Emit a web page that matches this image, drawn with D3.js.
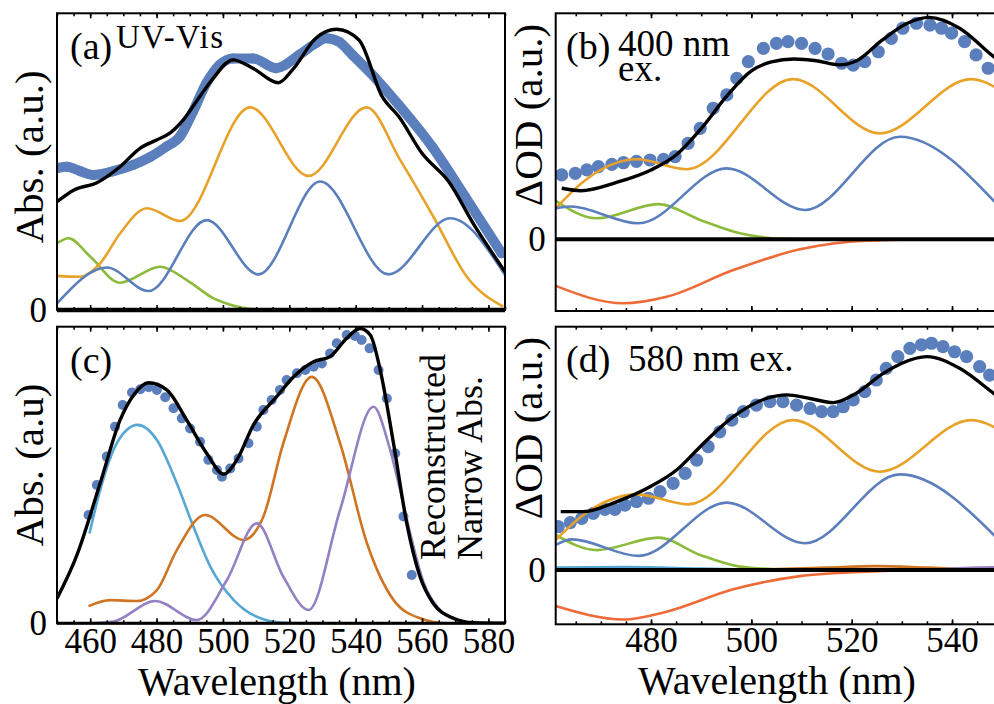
<!DOCTYPE html>
<html>
<head>
<meta charset="utf-8">
<script src="https://cdn.jsdelivr.net/npm/d3@7"></script>
<style>
  body { margin: 0; background: #fff; }
</style>
</head>
<body>
<div id="chart"></div>
<script>
// ---- values: [wavelength (nm), signal (a.u.)] ----

// (a) UV-Vis
const aData   = [[450,.478],[453,.483],[457,.468],[461,.455],[467,.468],[473,.489],[478,.515],[483,.551],[487,.584],[491,.669],[495,.764],[499,.826],[503,.848],[509,.848],[516,.815],[523,.860],[528,.899],[531,.916],[535,.904],[539,.860],[546,.781],[553,.691],[563,.551],[573,.382],[584,.191]];
const aFit    = [[450,.365],[455,.404],[462,.429],[469,.483],[475,.545],[480,.573],[484,.596],[488,.64],[493,.719],[497,.78],[503,.843],[509,.815],[516.7,.766],[521,.81],[528,.916],[534.3,.946],[541,.91],[548,.719],[553,.652],[560,.528],[568,.433],[576,.281],[585,.129]];
const aBlue   = [[450,.022],[465,.143],[477.6,.064],[495.1,.303],[510.7,.120],[529.3,.433],[549.9,.120],[568.5,.309],[585,.118]];
const aOrange = [[450,.115],[457,.112],[463,.157],[469,.258],[477.1,.343],[487.1,.300],[508.2,.683],[525.8,.452],[543.3,.683],[553.4,.506],[563.4,.315],[573.5,.112],[584.5,.011]];
const aGreen  = [[450,.225],[453.5,.242],[460,.18],[469,.092],[481.1,.146],[489.1,.101],[497.2,.039],[503,.015],[508,.004],[515,0]];

// (b) 400 nm excitation
const bData   = [[462.2,.285],[464.9,.292],[467.2,.307],[469.5,.322],[472.2,.332],[474.5,.339],[477.1,.345],[479.8,.351],[482.5,.354],[484.8,.366],[487.4,.425],[489.8,.491],[492.4,.580],[495.1,.639],[497.1,.712],[499.4,.786],[502.4,.845],[505.0,.867],[507.3,.875],[510.0,.867],[512.7,.845],[515.3,.820],[518.0,.779],[520.3,.771],[522.6,.786],[525.3,.830],[527.9,.889],[530.2,.934],[532.9,.956],[535.6,.948],[537.9,.934],[539.9,.912],[542.5,.875],[544.8,.816],[547.2,.757]];
const bFit    = [[462.2,.226],[466,.215],[473,.251],[480,.307],[485,.373],[490,.49],[495,.631],[500,.745],[504,.785],[508.5,.798],[513,.79],[517.5,.772],[521,.79],[526,.88],[531,.955],[535.5,.982],[541.5,.934],[548.3,.808],[550,.78]];
const bBlue   = [[461,.137],[463.9,.145],[477.5,.071],[495.1,.314],[510.7,.130],[529.6,.454],[550,.13]];
const bOrange = [[461,.137],[466.5,.255],[477.1,.354],[487.1,.310],[508.3,.709],[525.6,.469],[543.8,.709],[550,.655]];
const bGreen  = [[461,.170],[469.2,.093],[481.5,.156],[489.8,.086],[497.7,.027],[505,.004],[512,0]];
const bRed    = [[461,-.206],[474.5,-.283],[483.1,-.254],[496.4,-.136],[509.7,-.044],[522.9,-.006],[536.2,0],[550,0]];

// (c) reconstructed narrow absorption
const cData   = [[459.5,.365],[462.0,.466],[465.0,.562],[467.5,.663],[469.8,.736],[472.6,.778],[475.1,.789],[477.6,.796],[480.1,.787],[482.6,.762],[485.1,.725],[487.6,.691],[490.1,.657],[493.1,.612],[495.6,.551],[498.2,.517],[499.7,.494],[502.2,.522],[504.7,.556],[507.7,.607],[510.2,.663],[512.2,.719],[514.7,.753],[517.2,.787],[519.2,.820],[522.3,.843],[524.8,.854],[527.3,.865],[529.8,.876],[532.3,.910],[534.3,.944],[537.3,.972],[539.8,.969],[541.8,.955],[544.2,.927],[546.9,.854],[549.4,.758],[551.9,.573],[554.4,.360],[556.9,.163]];
const cFit    = [[450,.084],[456,.230],[463,.472],[469,.685],[473.1,.770],[477.6,.811],[483.1,.787],[489.1,.685],[495.1,.573],[500.2,.503],[504.2,.551],[509.2,.669],[516.2,.764],[521.3,.831],[527.3,.882],[532.3,.899],[537.3,.961],[541.3,.994],[544.4,.972],[547.4,.854],[551.4,.607],[555.4,.337],[559.4,.157],[563.4,.067],[569.5,.017],[575.5,.002],[585,0]];
const cCyan   = [[459.8,.303],[463,.449],[468,.607],[474.3,.669],[480.1,.618],[486.1,.472],[491.1,.326],[496.2,.191],[503.2,.079],[510.2,.022],[518.2,.002],[530,0]];
const cBrown  = [[459.5,.058],[466,.078],[474,.075],[480.1,.112],[486.1,.247],[494.6,.365],[506.2,.281],[512.2,.360],[518.2,.607],[526.8,.831],[535.3,.607],[543.4,.270],[551.4,.079],[559.4,.017],[567.5,0],[585,0]];
const cPurple = [[460,0],[467,.006],[479.6,.075],[492.1,.011],[501.2,.146],[510.2,.337],[518.2,.157],[525.8,.045],[535.3,.382],[545.4,.730],[550,.6],[553.4,.45],[556.5,.3],[560.4,.14],[565,.05],[570,.012],[576,0],[585,0]];

// (d) 580 nm excitation
const dData   = [[461.5,.178],[463.9,.195],[466.2,.212],[468.5,.233],[470.8,.249],[472.8,.249],[474.8,.267],[477.1,.281],[479.5,.295],[481.8,.322],[484.4,.356],[486.8,.397],[489.1,.452],[491.4,.507],[493.7,.568],[496.1,.616],[498.4,.651],[501.0,.678],[503.7,.692],[506.3,.692],[509.0,.678],[511.7,.664],[514.0,.651],[516.3,.651],[518.3,.671],[520.3,.699],[522.6,.733],[524.9,.781],[526.9,.829],[529.2,.877],[531.6,.911],[533.9,.925],[535.9,.932],[538.2,.918],[540.5,.897],[542.9,.877],[545.5,.836],[547.5,.801]];
const dFit    = [[462,.240],[466.5,.240],[473.2,.281],[479.8,.342],[485.1,.411],[489.8,.507],[496.4,.630],[503,.705],[507,.72],[511.7,.705],[516.3,.688],[520.3,.719],[526.3,.808],[530,.85],[535,.877],[541.5,.829],[548.3,.726],[550,.70]];
const dBlue   = [[461,.103],[464.2,.126],[477.5,.058],[495.1,.277],[510.7,.110],[529.6,.393],[550,.11]];
const dOrange = [[461,.123],[466.5,.226],[477.1,.311],[487.4,.270],[508.3,.616],[525.6,.404],[543.8,.616],[550,.57]];
const dGreen  = [[461,.144],[469.2,.082],[481.5,.133],[489.8,.062],[497.7,.014],[505,.003],[512,0]];
const dRed    = [[461,-.148],[474.5,-.203],[483.1,-.171],[496.4,-.079],[509.7,-.025],[522.9,-.007],[536.2,0],[550,0]];
const dCyan   = [[461,.010],[475,.012],[490,.006],[500,.002],[510,0]];
const dBrown  = [[495,0],[505,.004],[515,.01],[525,.016],[535,.01],[545,.003],[550,.002]];
const dPurple = [[528,0],[538,.004],[545,.01],[550,.012]];

// tick values
const ticksAC = [460, 480, 500, 520, 540, 560, 580];
const ticksBD = [480, 500, 520, 540];
const minorAC = d3.range(450, 586, 5);
const minorBD = d3.range(465, 551, 5);

// colours
const C = {
  blue: "#5b7fbc", orange: "#e8a22a", green: "#8cba3b", red: "#ee6a36",
  cyan: "#56a7d3", brown: "#cf7421", purple: "#9480c2"
};
const SERIF = "'Liberation Serif', 'Times New Roman', serif";

const svg = d3.select("#chart").append("svg")
  .attr("width", 994)
  .attr("height", 704)
  .style("display", "block")
  .style("font-family", SERIF);

function drawPanel(p) {
  const x = d3.scaleLinear().domain(p.xDomain).range([p.left, p.right]);
  const y = d3.scaleLinear().domain(p.yDomain).range([p.bottom, p.top]);

  svg.append("clipPath").attr("id", "clip-" + p.id)
    .append("rect")
      .attr("x", p.left).attr("y", p.top)
      .attr("width", p.right - p.left).attr("height", p.bottom - p.top);

  const plot = svg.append("g").attr("clip-path", `url(#clip-${p.id})`);

  const line = d3.line()
    .x(d => x(d[0]))
    .y(d => y(d[1]))
    .curve(d3.curveMonotoneX);

  // measured points
  if (p.band) {
    plot.append("path")
      .datum(p.data)
      .attr("fill", "none")
      .attr("stroke", C.blue)
      .attr("stroke-width", 10)
      .attr("stroke-linecap", "round")
      .attr("d", line);
  }
  plot.selectAll(".dot")
    .data(p.data)
    .enter().append("circle")
      .attr("cx", d => x(d[0]))
      .attr("cy", d => y(d[1]))
      .attr("r", p.r)
      .attr("fill", C.blue);

  // fit components
  p.comps.forEach(c => {
    plot.append("path")
      .datum(c.values)
      .attr("fill", "none")
      .attr("stroke", C[c.color])
      .attr("stroke-width", 2.6)
      .attr("d", line);
  });

  // total fit
  plot.append("path")
    .datum(p.fit)
    .attr("fill", "none")
    .attr("stroke", "#000")
    .attr("stroke-width", 3.4)
    .attr("d", line);

  // zero line
  svg.append("line")
    .attr("x1", p.left).attr("x2", p.right)
    .attr("y1", y(0)).attr("y2", y(0))
    .attr("stroke", "#000")
    .attr("stroke-width", p.zeroWidth);

  // frame
  svg.append("rect")
    .attr("x", p.left).attr("y", p.top)
    .attr("width", p.right - p.left).attr("height", p.bottom - p.top)
    .attr("fill", "none")
    .attr("stroke", "#000")
    .attr("stroke-width", 2);

  // ticks, pointing inwards on top and bottom
  const major = p.majors.filter(v => v >= p.xDomain[0] && v <= p.xDomain[1]);
  svg.append("g")
    .attr("transform", `translate(0,${p.bottom})`)
    .call(d3.axisBottom(x).tickValues(major).tickSize(-5).tickPadding(p.labelX ? p.tickPad : 0)
      .tickFormat(p.labelX ? d3.format("d") : ""));
  svg.append("g")
    .attr("transform", `translate(0,${p.bottom})`)
    .call(d3.axisBottom(x).tickValues(p.minors).tickSize(-3).tickFormat(""));
  svg.append("g")
    .attr("transform", `translate(0,${p.top})`)
    .call(d3.axisTop(x).tickValues(major).tickSize(-5).tickFormat(""));
  svg.append("g")
    .attr("transform", `translate(0,${p.top})`)
    .call(d3.axisTop(x).tickValues(p.minors).tickSize(-3).tickFormat(""));

  // the lone "0" on the y axis
  svg.append("g")
    .attr("transform", `translate(${p.left},0)`)
    .call(d3.axisLeft(y).tickValues([0]).tickSize(0).tickPadding(10).tickFormat(d3.format("d")));

  svg.selectAll(".domain").remove();
  svg.selectAll(".tick line").attr("stroke", "#000").attr("stroke-width", 1.6);
  svg.selectAll("g").attr("font-family", null);
  svg.selectAll(".tick text")
    .attr("fill", "#000")
    .style("font-family", SERIF)
    .style("font-size", "35px");

  // y axis title
  svg.append("text")
    .attr("transform", `translate(${p.left - 14},${p.yTitleY}) rotate(-90)`)
    .attr("text-anchor", "middle")
    .style("font-family", SERIF)
    .style("font-size", "41px")
    .text(p.yTitle);

  if (p.labelX) {
    svg.append("text")
      .attr("x", p.xTitleX)
      .attr("y", p.xTitleY)
      .attr("text-anchor", "middle")
      .style("font-family", SERIF)
      .style("font-size", "40px")
      .text("Wavelength (nm)");
  }
}

drawPanel({
  id: "a", left: 57, right: 505, top: 13.3, bottom: 310,
  xDomain: [450, 585], yDomain: [0, 1],
  majors: ticksAC, minors: minorAC, labelX: false,
  data: aData, band: true, r: 5, fit: aFit, zeroWidth: 4.5,
  comps: [
    { values: aGreen, color: "green" },
    { values: aOrange, color: "orange" },
    { values: aBlue, color: "blue" }
  ],
  yTitle: "Abs. (a.u.)", yTitleY: 157
});

drawPanel({
  id: "b", left: 555.7, right: 1002.2, top: 13.3, bottom: 311,
  xDomain: [461, 550], yDomain: [-0.317, 1],
  majors: ticksBD, minors: minorBD, labelX: false,
  data: bData, band: false, r: 6.6, fit: bFit, zeroWidth: 4,
  comps: [
    { values: bRed, color: "red" },
    { values: bGreen, color: "green" },
    { values: bOrange, color: "orange" },
    { values: bBlue, color: "blue" }
  ],
  yTitle: "\u0394OD (a.u.)", yTitleY: 115
});

drawPanel({
  id: "c", left: 57, right: 505, top: 326.7, bottom: 623.3,
  xDomain: [450, 585], yDomain: [0, 1],
  majors: ticksAC, minors: minorAC, labelX: true, tickPad: 5, xTitleX: 277, xTitleY: 695,
  data: cData, band: false, r: 5, fit: cFit, zeroWidth: 3,
  comps: [
    { values: cCyan, color: "cyan" },
    { values: cBrown, color: "brown" },
    { values: cPurple, color: "purple" }
  ],
  yTitle: "Abs. (a.u)", yTitleY: 465
});

drawPanel({
  id: "d", left: 555.7, right: 1002.2, top: 326.7, bottom: 624.3,
  xDomain: [461, 550], yDomain: [-0.223, 1],
  majors: ticksBD, minors: minorBD, labelX: true, tickPad: 3, xTitleX: 777, xTitleY: 694,
  data: dData, band: false, r: 6.6, fit: dFit, zeroWidth: 4,
  comps: [
    { values: dCyan, color: "cyan" },
    { values: dBrown, color: "brown" },
    { values: dPurple, color: "purple" },
    { values: dRed, color: "red" },
    { values: dGreen, color: "green" },
    { values: dOrange, color: "orange" },
    { values: dBlue, color: "blue" }
  ],
  yTitle: "\u0394OD (a.u.)", yTitleY: 428
});

// panel labels
const labels = [
  { x: 70, y: 59, size: 38, text: "(a)" },
  { x: 116, y: 48, size: 33, text: "UV-Vis", spacing: 1.5 },
  { x: 566, y: 59, size: 38, text: "(b)" },
  { x: 618, y: 56, size: 37, text: "400 nm" },
  { x: 618, y: 81, size: 37, text: "ex." },
  { x: 70, y: 373, size: 38, text: "(c)" },
  { x: 566, y: 372, size: 38, text: "(d)" },
  { x: 628, y: 371, size: 37, text: "580 nm ex." }
];
svg.selectAll(".panel-label")
  .data(labels)
  .enter().append("text")
    .attr("class", "panel-label")
    .attr("x", d => d.x)
    .attr("y", d => d.y)
    .style("font-family", SERIF)
    .style("font-size", d => d.size + "px")
    .style("letter-spacing", d => (d.spacing || 0) + "px")
    .text(d => d.text);

// rotated note in (c)
svg.append("text")
  .attr("transform", "translate(445,560) rotate(-90)")
  .style("font-family", SERIF)
  .style("font-size", "36px")
  .text("Reconstructed");
svg.append("text")
  .attr("transform", "translate(482,560) rotate(-90)")
  .style("font-family", SERIF)
  .style("font-size", "36px")
  .text("Narrow Abs.");
</script>
</body>
</html>
